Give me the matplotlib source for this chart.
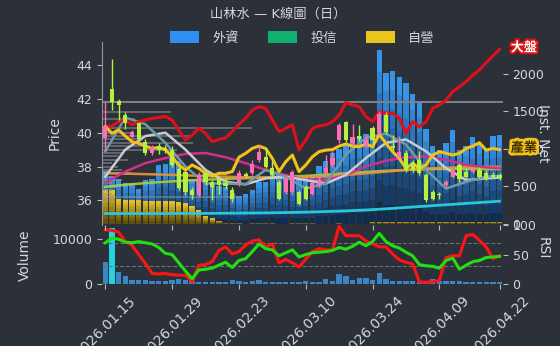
#!/usr/bin/env python3
"""山林水 daily K-line chart: candles, MAs, institutional net bars, volume and RSI."""

import numpy as np
import matplotlib

matplotlib.use("Agg")
import matplotlib.pyplot as plt
import matplotlib.patheffects as pe
from matplotlib.colors import to_rgb
from matplotlib.patches import Patch

plt.rcParams["font.family"] = ["DejaVu Sans", "Noto Sans CJK TC"]

BG = "#2b3039"
FG = "#d5d8dc"
UP = "#ff6eb4"
DOWN = "#b4f03c"

dates = [
    "2026.01.15", "2026.01.16", "2026.01.19", "2026.01.20", "2026.01.21",
    "2026.01.22", "2026.01.23", "2026.01.26", "2026.01.27", "2026.01.28",
    "2026.01.29", "2026.01.30", "2026.02.02", "2026.02.03", "2026.02.04",
    "2026.02.05", "2026.02.06", "2026.02.09", "2026.02.10", "2026.02.11",
    "2026.02.23", "2026.02.24", "2026.02.25", "2026.02.26", "2026.03.02",
    "2026.03.03", "2026.03.04", "2026.03.05", "2026.03.06", "2026.03.09",
    "2026.03.10", "2026.03.11", "2026.03.12", "2026.03.13", "2026.03.16",
    "2026.03.17", "2026.03.18", "2026.03.19", "2026.03.20", "2026.03.23",
    "2026.03.24", "2026.03.25", "2026.03.26", "2026.03.27", "2026.03.30",
    "2026.03.31", "2026.04.01", "2026.04.02", "2026.04.07", "2026.04.08",
    "2026.04.09", "2026.04.10", "2026.04.13", "2026.04.14", "2026.04.15",
    "2026.04.16", "2026.04.17", "2026.04.20", "2026.04.21", "2026.04.22",
]
tick_idx = [0, 10, 20, 30, 40, 50, 59]

opens = [39.67, 42.59, 41.88, 41.05, 39.76, 40.55, 39.43, 38.78, 39.2, 39.1,
         39.0, 37.85, 37.65, 36.6, 36.31, 37.62, 37.1, 37.25, 37.0, 36.6,
         37.1, 37.55, 37.6, 38.39, 38.54, 37.9, 37.1, 36.5, 36.5, 36.5,
         36.8, 36.4, 36.9, 37.6, 38.1, 39.57, 40.65, 39.37, 39.8, 39.21,
         40.26, 40.0, 41.05, 39.2, 38.58, 38.78, 38.23, 38.39, 37.5, 36.5,
         36.35, 36.9, 37.4, 38.1, 37.7, 37.7, 37.8, 37.6, 37.5, 37.5]
highs = [41.83, 44.34, 42.0, 41.2, 40.15, 40.65, 39.6, 39.3, 39.4, 39.3,
         39.2, 38.0, 37.8, 36.8, 37.7, 37.8, 37.2, 37.4, 37.3, 36.8,
         37.8, 37.7, 38.4, 39.3, 39.1, 38.3, 37.2, 37.4, 37.8, 36.6,
         36.9, 37.1, 37.4, 38.7, 38.9, 40.6, 40.7, 40.5, 40.45, 39.9,
         40.4, 41.3, 41.2, 39.86, 39.8, 39.0, 38.4, 38.9, 37.6, 36.6,
         36.5, 37.2, 38.0, 38.2, 37.9, 38.0, 38.0, 37.8, 37.7, 37.6]
lows = [38.98, 41.34, 40.75, 40.2, 39.7, 39.5, 38.7, 38.7, 38.75, 38.8,
        37.95, 36.6, 36.3, 36.1, 36.2, 36.9, 36.0, 36.4, 36.7, 35.9,
        36.85, 37.35, 37.5, 38.25, 37.9, 37.4, 36.0, 36.4, 36.4, 35.7,
        36.0, 36.3, 36.8, 37.5, 38.0, 39.4, 39.45, 39.3, 39.5, 39.1,
        39.4, 39.9, 39.9, 38.98, 38.5, 37.7, 37.7, 37.5, 35.9, 36.0,
        36.1, 36.8, 37.3, 37.1, 37.3, 37.6, 37.3, 37.2, 37.3, 37.2]
closes = [40.37, 41.8, 41.64, 40.6, 40.06, 39.6, 38.78, 39.17, 38.95, 38.95,
          38.09, 36.75, 36.5, 36.3, 37.5, 37.1, 36.8, 36.9, 36.85, 36.1,
          37.6, 37.45, 38.15, 38.88, 38.0, 37.5, 36.1, 37.3, 37.7, 35.8,
          36.1, 37.0, 37.2, 37.9, 38.5, 40.46, 39.57, 39.76, 39.6, 39.57,
          39.57, 41.1, 40.06, 39.1, 38.88, 37.8, 37.8, 37.6, 36.0, 36.1,
          36.3, 37.1, 37.8, 37.24, 37.4, 37.85, 37.4, 37.24, 37.4, 37.3]

# market (大盤) and industry (產業) indices, rebased to the first close
market = [40.37, 40.4, 40.65, 40.75, 40.46, 40.65, 40.75, 40.85, 40.9, 40.97,
          40.75, 40.16, 39.57, 39.86, 40.26, 39.96, 39.47, 39.6, 39.7, 40.06,
          40.5, 40.85, 41.34, 41.54, 41.44, 40.75, 40.06, 40.26, 40.46, 38.98,
          39.57, 40.26, 40.4, 40.46, 40.65, 41.05, 41.78, 41.64, 41.54, 40.95,
          40.65, 41.24, 41.15, 41.15, 40.85, 39.96, 40.65, 40.36, 40.65, 41.44,
          41.64, 41.93, 42.43, 42.72, 43.02, 43.41, 43.71, 44.14, 44.54, 44.93]
industry = [40.37, 39.96, 40.16, 39.8, 39.47, 39.37, 39.21, 39.07, 39.13, 39.0,
            38.58, 38.09, 37.8, 38.09, 37.89, 37.6, 37.44, 37.6, 37.6, 37.7,
            38.55, 38.78, 39.07, 39.21, 39.07, 38.48, 37.7, 38.28, 38.68, 37.7,
            38.09, 38.58, 38.88, 38.97, 39.0, 39.21, 39.33, 39.21, 39.17, 39.33,
            39.17, 39.9, 39.37, 38.88, 38.48, 37.89, 38.19, 37.89, 38.09, 38.68,
            38.88, 38.78, 38.68, 38.78, 39.07, 39.21, 39.41, 38.97, 39.07, 39.0]

# moving averages, read every third session
ma_idx = [0, 3, 6, 9, 12, 15, 18, 21, 24, 27, 30, 33, 36, 39, 42, 45, 48, 51, 54, 57, 59]
ma5 = [38.9, 40.9, 40.5, 39.4, 38.0, 37.0, 37.0, 36.95, 37.8, 37.4, 36.7,
       37.0, 38.7, 39.7, 39.95, 39.3, 37.8, 36.7, 37.1, 37.4, 37.45]
ma10 = [37.4, 39.0, 39.8, 40.0, 39.0, 37.8, 37.1, 36.95, 37.3, 37.4, 37.2,
        37.0, 37.5, 38.5, 39.4, 39.6, 38.9, 37.9, 37.2, 37.3, 37.35]
ma20 = [37.05, 37.7, 38.2, 38.5, 38.75, 38.8, 38.55, 38.2, 37.8, 37.5, 37.2,
        37.2, 37.5, 38.0, 38.35, 38.55, 38.6, 38.4, 38.1, 37.95, 37.9]
ma60 = [37.6, 37.58, 37.55, 37.52, 37.48, 37.44, 37.4, 37.37, 37.35, 37.35, 37.37,
        37.42, 37.5, 37.6, 37.7, 37.8, 37.88, 37.93, 37.97, 37.98, 37.98]
ma120 = [36.8, 36.92, 37.02, 37.1, 37.17, 37.22, 37.27, 37.31, 37.35, 37.4, 37.45,
         37.52, 37.6, 37.68, 37.75, 37.8, 37.84, 37.86, 37.86, 37.85, 37.85]
ma240 = [35.22, 35.22, 35.22, 35.22, 35.23, 35.23, 35.24, 35.25, 35.26, 35.28, 35.3,
         35.34, 35.38, 35.43, 35.5, 35.58, 35.66, 35.74, 35.82, 35.9, 35.95]

resistance = 41.8

# volume-by-price profile
profile_price = [41.8, 41.2, 40.8, 40.3, 40.0, 39.8, 39.6, 39.4, 39.2, 39.0, 38.8, 38.6,
                 38.4, 38.2, 38.0, 37.8, 37.6, 37.4, 37.2, 37.0, 36.8, 36.6, 36.4, 36.2, 36.0]
profile_vol = [78, 69, 33, 150, 30, 90, 40, 91, 40, 75, 20, 16,
               26, 10, 16, 20, 30, 15, 20, 10, 15, 10, 10, 136, 10]

# institutional net (lots)
foreign = [700, 640, 590, 540, 540, 460, 580, 590, 780, 790,
           890, 830, 670, 600, 580, 600, 540, 500, 490, 405,
           370, 390, 450, 550, 560, 680, 650, 630, 590, 590,
           620, 650, 770, 830, 940, 1000, 1050, 1150, 1170, 1200,
           1270, 2316, 2013, 2036, 1960, 1880, 1729, 1627, 1259, 1036,
           983, 1072, 1249, 983, 1036, 1152, 1063, 983, 1169, 1183]
trust = [0] * 60
dealer = [449, 449, 325, 315, 312, 310, 308, 306, 304, 300,
          295, 290, 270, 235, 183, 103, 72, 40, 12, 10,
          8, 0, 12, 12, 12, 12, 0, 0, 12, 12,
          12, 12, 0, 0, 0, 12, 0, 0, 0, 0,
          25, 25, 25, 25, 25, 25, 25, 25, 25, 25,
          25, 25, 25, 25, 25, 25, 25, 25, 25, 25]

volume = [4900, 12600, 2700, 1760, 880, 880, 880, 660, 730, 590,
          800, 1100, 800, 590, 520, 520, 520, 520, 520, 880,
          660, 370, 660, 880, 520, 450, 450, 520, 400, 450,
          660, 520, 520, 1100, 660, 2350, 1800, 1000, 1350, 1350,
          1000, 2400, 1050, 660, 600, 600, 600, 550, 500, 1050,
          600, 600, 650, 650, 450, 500, 500, 500, 500, 500]

rsi_fast = [92, 91, 88, 72, 66, 50, 35, 18, 17, 18, 16, 15, 15, 4, 32, 33, 38, 57, 63, 51,
            55, 66, 73, 75, 63, 68, 36, 42, 36, 29, 42, 55, 60, 58, 58, 98, 82, 82, 82, 73,
            68, 63, 63, 51, 41, 37, 34, 4, 3, 4, 6, 45, 48, 48, 82, 84, 74, 63, 43, 48]
rsi_slow = [70, 78, 76, 71, 70, 72, 70, 68, 62, 52, 50, 36, 22, 9, 24, 25, 27, 32, 37, 28,
            40, 43, 55, 68, 60, 58, 48, 53, 58, 46, 50, 53, 54, 55, 57, 62, 59, 64, 71, 65,
            72, 86, 72, 65, 61, 54, 48, 33, 31, 30, 27, 40, 44, 25, 32, 38, 40, 45, 46, 47]


def gradient_bars(ax, x, vals, width, c_top, c_bot, n=8, zorder=1):
    vals = np.asarray(vals, dtype=float)
    top = np.array(to_rgb(c_top))
    bot = np.array(to_rgb(c_bot))
    for k in range(n):
        col = bot + (top - bot) * (k + 0.5) / n
        ax.bar(x, vals / n, width, bottom=vals * k / n, color=col,
               linewidth=0, zorder=zorder)


def style_axis(a):
    a.set_facecolor(BG)
    for s in a.spines.values():
        s.set_visible(False)
    a.tick_params(colors="#b8bcc2", labelcolor=FG, labelsize=9, length=3.5)


fig = plt.figure(figsize=(5.6, 3.46), dpi=100, facecolor=BG)
ax = fig.add_axes([0.182, 0.350, 0.716, 0.529])
inst = ax.twinx()
vax = fig.add_axes([0.182, 0.179, 0.716, 0.1705], sharex=ax)
rax = vax.twinx()
for a in (ax, inst, vax, rax):
    style_axis(a)
ax.spines["left"].set_visible(True)
ax.spines["left"].set_color("#8e949c")

x = np.arange(len(dates))

# institutional bars behind the price layer
gradient_bars(inst, x, foreign, 0.8, "#3a9af2", "#0c2548")
gradient_bars(inst, x, trust, 0.8, "#19c27a", "#0a4a30", zorder=2)
gradient_bars(inst, x, dealer, 0.8, "#ecc82a", "#5a4608", zorder=3)
inst.set_ylim(-17, 2423)
inst.set_yticks([0, 500, 1000, 1500, 2000])
inst.set_ylabel("Inst. Net", color=FG, fontsize=10, rotation=270)
inst.yaxis.set_label_coords(1.117, 0.5)

ax.set_zorder(inst.get_zorder() + 1)
ax.patch.set_visible(False)

# price layer
scale = 22.4 / max(profile_vol)
ax.barh(profile_price, np.array(profile_vol) * scale, left=-0.5, height=0.12,
        color="#8a9099", alpha=0.55, linewidth=0, zorder=1)
ax.axhline(resistance, color="#7d838b", lw=1.4, zorder=2)

ax.plot(ma_idx, ma240, color="#28c8d8", lw=2.0, zorder=3)
ax.plot(ma_idx, ma120, color="#a8d040", lw=1.8, alpha=0.9, zorder=3)
ax.plot(ma_idx, ma60, color="#e8963a", lw=1.8, alpha=0.9, zorder=3)
ax.plot(ma_idx, ma20, color="#d0308c", lw=1.8, zorder=3)
ax.plot(ma_idx, ma10, color="#c8ccd0", lw=1.8, zorder=3)
ax.plot(ma_idx, ma5, color="#6d9aa6", lw=1.8, zorder=3)

ax.plot(x, market, color="#e0101a", lw=2.2, zorder=4)
ax.plot(x, industry, color="#f2c21a", lw=2.2, zorder=4)

for i in range(len(x)):
    o, h, l, c = opens[i], highs[i], lows[i], closes[i]
    col = UP if c >= o else DOWN
    ax.vlines(i, l, h, color=col, lw=1.0, zorder=6)
    ax.bar(i, max(abs(c - o), 0.04), 0.62, bottom=min(o, c), color=col,
           linewidth=0, zorder=7)

ax.annotate("大盤", xy=(x[-1], market[-1]), xytext=(8, 1), textcoords="offset points",
            color="white", fontsize=9.5, fontweight="bold", ha="left", va="center",
            annotation_clip=False, zorder=10,
            path_effects=[pe.withStroke(linewidth=3, foreground="#e01010")])
ax.annotate("產業", xy=(x[-1], industry[-1]), xytext=(8, 1), textcoords="offset points",
            color="#3b2e00", fontsize=9.5, fontweight="bold", ha="left", va="center",
            annotation_clip=False, zorder=10,
            path_effects=[pe.withStroke(linewidth=4, foreground="#f2c21a")])

ax.set_xlim(-0.5, 59.5)
ax.set_ylim(34.55, 45.37)
ax.set_yticks([36, 38, 40, 42, 44])
ax.set_ylabel("Price", color=FG, fontsize=10)
ax.yaxis.set_label_coords(-0.1, 0.5)
ax.tick_params(labelbottom=False)

# volume + RSI panel
vol_colors = ["#1ee8f8" if v == max(volume) else "#3c8fd6" for v in volume]
vax.bar(x, volume, 0.8, color=vol_colors, alpha=0.9, linewidth=0)
vax.set_ylim(0, 13200)
vax.set_yticks([0, 10000])
vax.set_ylabel("Volume", color=FG, fontsize=10)
vax.yaxis.set_label_coords(-0.175, 0.48)

rax.axhline(70, color="#6a7078", lw=0.8, ls="--")
rax.axhline(30, color="#6a7078", lw=0.8, ls="--")
rax.plot(x, rsi_fast, color="#ff1414", lw=2.2)
rax.plot(x, rsi_slow, color="#22e010", lw=2.2)
rax.set_ylim(0, 100)
rax.set_yticks([0, 50, 100])
rax.set_ylabel("RSI", color=FG, fontsize=10, rotation=270)
rax.yaxis.set_label_coords(1.117, 0.6)

vax.set_xticks(tick_idx)
vax.set_xticklabels([dates[i] for i in tick_idx], rotation=45, ha="center", fontsize=10)

fig.text(0.497, 0.958, "山林水 — K線圖（日）", color=FG, fontsize=9.5,
         ha="center", va="center")
handles = [Patch(facecolor="#2e8ff0"), Patch(facecolor="#10b070"), Patch(facecolor="#e8c620")]
fig.legend(handles, ["外資", "投信", "自營"], loc="center", bbox_to_anchor=(0.54, 0.89),
           ncol=3, frameon=False, fontsize=9.5, labelcolor=FG, handlelength=2.2,
           handleheight=1.0, handletextpad=1.0, columnspacing=2.2)

fig.savefig("out.png", dpi=100, facecolor=BG)
